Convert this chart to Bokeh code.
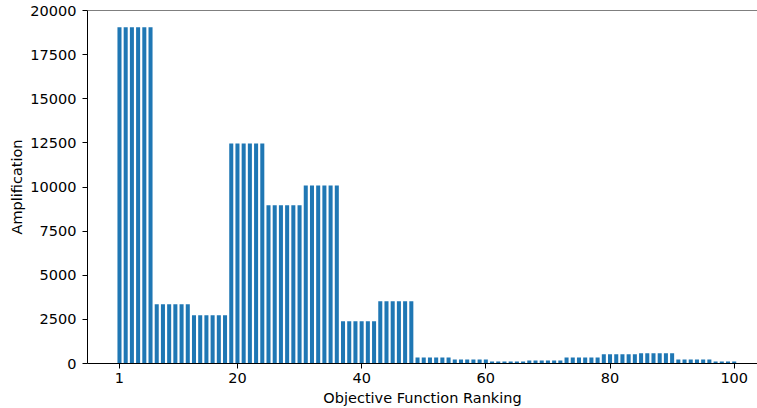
from bokeh.plotting import figure
from bokeh.models import ColumnDataSource, FixedTicker, Span, Range1d
from bokeh.embed import file_html
from bokeh.resources import INLINE

ranks = list(range(1, 101))
amplification = [
    19050, 19050, 19050, 19050, 19050, 19050,
    3350, 3350, 3350, 3350, 3350, 3350,
    2730, 2730, 2730, 2730, 2730, 2730,
    12470, 12470, 12470, 12470, 12470, 12470,
    8960, 8960, 8960, 8960, 8960, 8960,
    10090, 10090, 10090, 10090, 10090, 10090,
    2400, 2400, 2400, 2400, 2400, 2400,
    3530, 3530, 3530, 3530, 3530, 3530,
    340, 340, 340, 340, 340, 340,
    230, 230, 230, 230, 230, 230,
    120, 120, 120, 120, 120, 120,
    170, 170, 170, 170, 170, 170,
    345, 345, 345, 345, 345, 345,
    520, 520, 520, 520, 520, 520,
    580, 580, 580, 580, 580, 580,
    230, 230, 230, 230, 230, 230,
    115, 115, 115, 115,
]
x_ticks = [1, 20, 40, 60, 80, 100]
y_ticks = [0, 2500, 5000, 7500, 10000, 12500, 15000, 17500, 20000]

source = ColumnDataSource(dict(rank=ranks, amp=amplification))

p = figure(width=757, height=408, output_backend="svg", toolbar_location=None,
           x_range=Range1d(-4.15, 103.75), y_range=Range1d(0, 20000),
           min_border_left=87, min_border_right=0, min_border_top=10, min_border_bottom=45)

p.vbar(x="rank", top="amp", width=0.65, source=source,
       fill_color="#1f77b4", line_color=None)

p.outline_line_color = None
p.grid.visible = False
p.background_fill_color = "white"
p.border_fill_color = "white"

top_line = Span(location=20000, dimension="width", line_color="black", line_width=1)
p.add_layout(top_line)

for ax in (p.xaxis, p.yaxis):
    ax.major_tick_out = 5
    ax.major_tick_in = 0
    ax.minor_tick_line_color = None
    ax.axis_line_color = "black"
    ax.major_tick_line_color = "black"
    ax.major_label_text_font = "DejaVu Sans"
    ax.major_label_text_font_size = "14.5px"
    ax.major_label_text_color = "black"
    ax.axis_label_text_font = "DejaVu Sans"
    ax.axis_label_text_font_size = "14.5px"
    ax.axis_label_text_font_style = "normal"
    ax.axis_label_text_color = "black"

p.xaxis.ticker = FixedTicker(ticks=x_ticks)
p.yaxis.ticker = FixedTicker(ticks=y_ticks)
p.xaxis.axis_label = "Objective Function Ranking"
p.yaxis.axis_label = "Amplification"
p.xaxis.major_label_standoff = 4
p.yaxis.major_label_standoff = 6
p.xaxis.axis_label_standoff = 4
p.yaxis.axis_label_standoff = 2

open("out.html", "w").write(file_html(p, INLINE))
